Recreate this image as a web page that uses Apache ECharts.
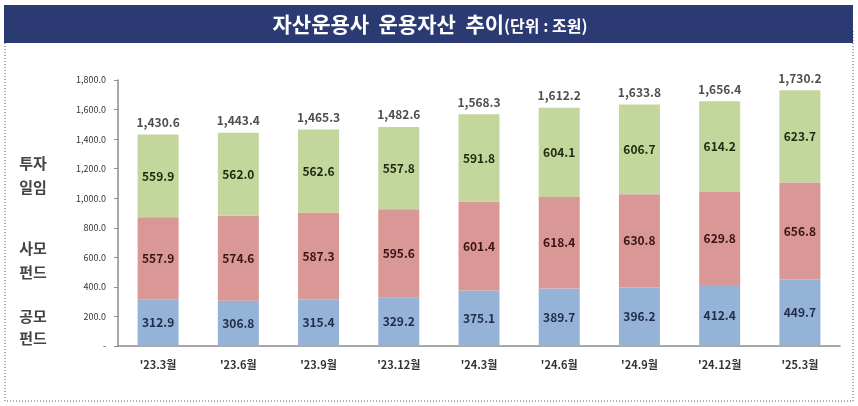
<!DOCTYPE html>
<html><head><meta charset="utf-8">
<script src="https://cdn.jsdelivr.net/npm/echarts@6/dist/echarts.min.js"></script>
<style>html,body{margin:0;padding:0;background:#fff}#c{width:858px;height:406px}</style>
</head><body><div id="c"></div>
<script>
const categories = ["'23.3월","'23.6월","'23.9월","'23.12월","'24.3월","'24.6월","'24.9월","'24.12월","'25.3월"];
const publicFunds = [312.9,306.8,315.4,329.2,375.1,389.7,396.2,412.4,449.7];
const privateFunds = [557.9,574.6,587.3,595.6,601.4,618.4,630.8,629.8,656.8];
const discretionary = [559.9,562.0,562.6,557.8,591.8,604.1,606.7,614.2,623.7];
const totals = [1430.6,1443.4,1465.3,1482.6,1568.3,1612.2,1633.8,1656.4,1730.2];
const yTicks = [0,200,400,600,800,1000,1200,1400,1600,1800];

const fmt = v => v.toLocaleString('en-US',{minimumFractionDigits:1,maximumFractionDigits:1});
const font = "'Noto Sans CJK KR', 'Noto Sans', sans-serif";
const inner = {show:true, position:'inside', fontWeight:'bold', fontSize:12, color:'#1e2a1e', fontFamily:font, formatter:p=>fmt(p.value)};

const chart = echarts.init(document.getElementById('c'));
chart.setOption({
  animation:false,
  textStyle:{fontFamily:font},
  grid:{left:118,right:18,top:80,bottom:60},
  xAxis:{type:'category', data:categories,
    axisLine:{lineStyle:{color:'#8c8c8c',width:1.5}}, axisTick:{show:false},
    axisLabel:{fontSize:11, fontWeight:'bold', color:'#333', margin:13, fontFamily:font}},
  yAxis:{type:'value', min:yTicks[0], max:yTicks[yTicks.length-1], interval:200,
    splitLine:{show:false},
    axisLine:{show:true, lineStyle:{color:'#8c8c8c',width:1.5}},
    axisTick:{show:true, length:4, lineStyle:{color:'#8c8c8c'}},
    axisLabel:{fontSize:9, color:'#333', margin:12, fontFamily:font,
      formatter:v=> v===0 ? '-' : fmt(v)}},
  series:[
    {name:'공모펀드', type:'bar', stack:'a', barWidth:41, data:publicFunds, itemStyle:{color:'#95b3d7'}, label:Object.assign({},inner,{color:'#1f2d4a'})},
    {name:'사모펀드', type:'bar', stack:'a', data:privateFunds, itemStyle:{color:'#d99795'}, label:Object.assign({},inner,{color:'#3a1414'})},
    {name:'투자일임', type:'bar', stack:'a', data:discretionary, itemStyle:{color:'#c3d69b'}, label:Object.assign({},inner,{color:'#1e2a10'})},
    {name:'합계', type:'scatter', data:totals, symbolSize:0, silent:true,
      label:{show:true, position:'top', distance:6, fontWeight:'bold', fontSize:12, color:'#222', fontFamily:font, formatter:p=>fmt(p.value)}}
  ],
  graphic:[
    {type:'rect', shape:{x:5,y:30,width:848,height:371}, style:{fill:'none', stroke:'#555', lineWidth:1, lineDash:[1,2]}, z:0},
    {type:'rect', shape:{x:4,y:5,width:849,height:38}, style:{fill:'#2b3a72'}, z:1},
    {type:'text', x:430, y:24, z:2, style:{text:'{a|자산운용사  운용자산  추이}{b|(단위 : 조원)}', align:'center', verticalAlign:'middle',
      rich:{a:{fontSize:21, fontWeight:'bold', fill:'#fff', fontFamily:font}, b:{fontSize:16, fontWeight:'bold', fill:'#fff', fontFamily:font, padding:[3,0,0,0]}}}},
    {type:'text', x:33, y:175, style:{text:'투자\n일임', align:'center', verticalAlign:'middle', fontSize:15, lineHeight:24, fill:'#444', fontFamily:font, fontWeight:'bold'}},
    {type:'text', x:33, y:260, style:{text:'사모\n펀드', align:'center', verticalAlign:'middle', fontSize:15, lineHeight:24, fill:'#444', fontFamily:font, fontWeight:'bold'}},
    {type:'text', x:33, y:327, style:{text:'공모\n펀드', align:'center', verticalAlign:'middle', fontSize:15, lineHeight:22, fill:'#444', fontFamily:font, fontWeight:'bold'}}
  ]
});
</script></body></html>
